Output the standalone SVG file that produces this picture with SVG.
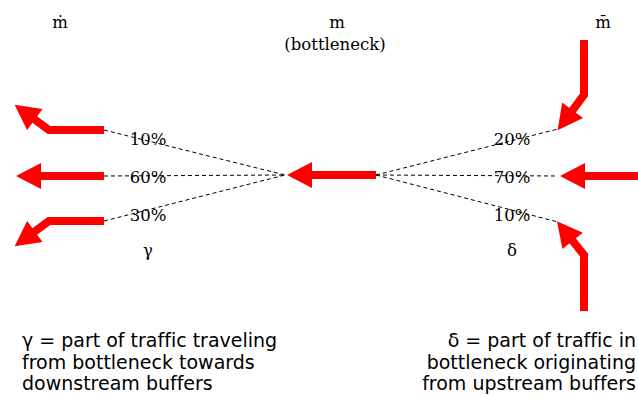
<svg xmlns="http://www.w3.org/2000/svg" width="638" height="396" viewBox="0 0 638 396">
<style>
.flow{fill:none;stroke:#ff0000;stroke-width:8;stroke-linejoin:miter}
.dash{fill:none;stroke:#000;stroke-width:1;stroke-dasharray:4,3}
.lbl{font-family:"DejaVu Serif","Liberation Serif",serif;font-size:16.5px;fill:#000;text-anchor:middle}
.note{font-family:"DejaVu Sans","Verdana",sans-serif;font-size:19px;fill:#000;font-variant-ligatures:none}
</style>
<defs>
<marker id="ah" markerUnits="userSpaceOnUse" markerWidth="26" markerHeight="26" viewBox="0 0 25 26" refX="1" refY="13" orient="auto">
<path d="M0,0 L25,13 L0,26 z" fill="#ff0000"/>
</marker>
</defs>
<g id="connectors">
<path class="dash" d="M104,130 L285,175 M104,176 L285,175 M104,221 L285,175"/>
<path class="dash" d="M376,175 L558,129 M376,175 L558,176 M376,175 L558,222"/>
</g>
<g id="out-top"><path class="flow" d="M104,130 L49,130 L34,119" marker-end="url(#ah)"/></g>
<g id="out-mid"><path class="flow" d="M104,176 L40,176" marker-end="url(#ah)"/></g>
<g id="out-bot"><path class="flow" d="M104,221 L49,221 L34,232" marker-end="url(#ah)"/></g>
<g id="bottleneck"><path class="flow" d="M376,175 L311,175" marker-end="url(#ah)"/></g>
<g id="in-top"><path class="flow" d="M584,40 L584,95 L572,111" marker-end="url(#ah)"/></g>
<g id="in-mid"><path class="flow" d="M638,176 L584,176" marker-end="url(#ah)"/></g>
<g id="in-bot"><path class="flow" d="M584,311 L584,255 L572,240" marker-end="url(#ah)"/></g>
<g id="labels">
<text class="lbl" x="60" y="28">ṁ</text>
<text class="lbl" x="337" y="28">m</text>
<text class="lbl" x="335" y="50">(bottleneck)</text>
<text class="lbl" x="603" y="28">m̄</text>
<text class="lbl" x="148" y="145">10%</text>
<text class="lbl" x="148" y="183">60%</text>
<text class="lbl" x="148" y="221">30%</text>
<text class="lbl" x="512" y="145">20%</text>
<text class="lbl" x="512" y="183">70%</text>
<text class="lbl" x="512" y="221">10%</text>
<text class="lbl" x="148" y="256">γ</text>
<text class="lbl" x="512" y="256">δ</text>
</g>
<g id="notes">
<text class="note" x="22" y="347">γ = part of traffic traveling</text>
<text class="note" x="22" y="369">from bottleneck towards</text>
<text class="note" x="22" y="390">downstream buffers</text>
<text class="note" x="636" y="347" text-anchor="end">δ = part of traffic in</text>
<text class="note" x="636" y="369" text-anchor="end">bottleneck originating</text>
<text class="note" x="636" y="390" text-anchor="end">from upstream buffers</text>
</g>
</svg>
